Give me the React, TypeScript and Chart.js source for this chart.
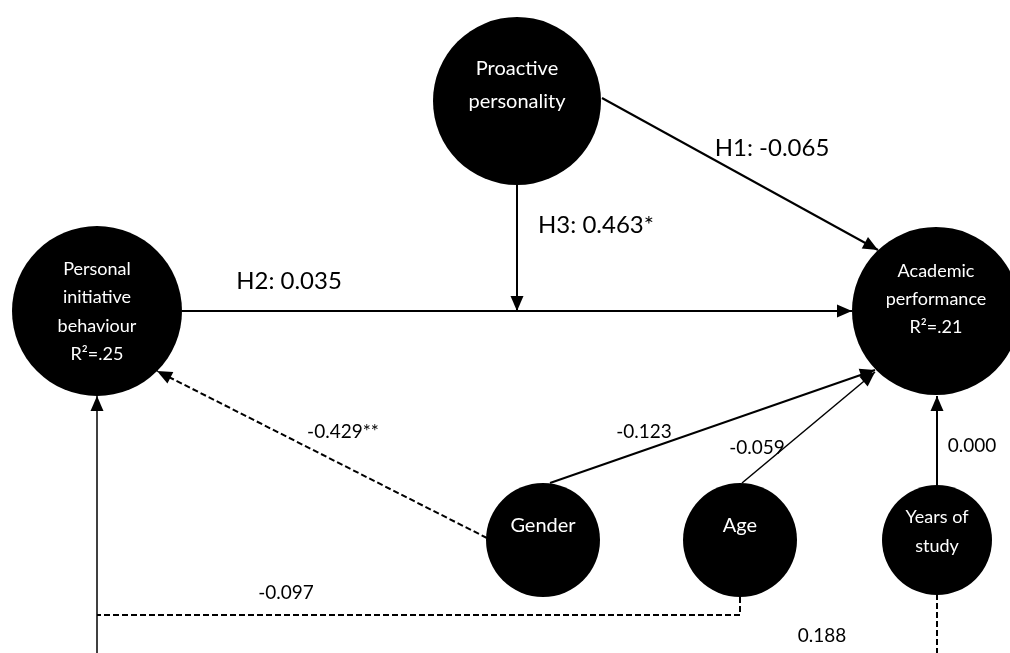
import React, { useEffect, useRef } from "react";
import { Chart, registerables } from "chart.js";

Chart.register(...registerables);

// ---- Nodes (latent / observed variables) ----
const NODE_LINES: string[][] = [
  ["Proactive", "personality"],
  ["Personal", "initiative", "behaviour", "R\u00B2=.25"],
  ["Academic", "performance", "R\u00B2=.21"],
  ["Gender"],
  ["Age"],
  ["Years of", "study"],
];
const NODE_X = [517, 97, 936, 543, 740, 937];
const NODE_Y = [101, 311, 311, 540, 540, 540];
const NODE_R = [84, 85, 84, 57, 57, 55];
const NODE_FONT = [20, 18, 18, 20, 20, 18];
const NODE_BASELINES: number[][] = [
  [75, 108],
  [275, 303, 332, 360],
  [277, 305, 333],
  [532],
  [532],
  [523, 552],
];

// ---- Paths (edges) ----
const EDGE_PATHS: number[][][] = [
  [[602, 98], [878, 250]],             // H1: Proactive -> Academic
  [[517, 184], [517, 311]],            // H3: moderation arrow
  [[182, 311], [852, 311]],            // H2: PI -> Academic
  [[487, 538], [157, 371]],            // Gender -> PI (dashed)
  [[550, 483], [875, 370]],            // Gender -> Academic
  [[742, 483], [875, 372]],            // Age -> Academic
  [[937, 486], [937, 396]],            // Years -> Academic
  [[740, 597], [740, 615], [97, 615]], // Age -> PI (dashed)
  [[97, 653], [97, 396]],              // shared vertical into PI
  [[937, 594], [937, 660]],            // Years -> PI (dashed, runs off page)
];
const EDGE_DASHED = [false, false, false, true, false, false, false, true, false, true];
const EDGE_ARROW = [true, true, true, true, true, true, true, false, true, false];
const EDGE_WIDTH = [2, 2, 2, 2, 2, 1.5, 2, 2, 1.5, 2];

// ---- Coefficient labels ----
const COEF_TEXT = ["H1: -0.065", "H3: 0.463*", "H2: 0.035", "-0.429**", "-0.123", "-0.059", "0.000", "-0.097", "0.188"];
const COEF_X = [772, 596, 289, 343, 644, 757, 972, 286, 822];
const COEF_Y = [148, 225, 281, 432, 432, 448, 446, 593, 636];
const COEF_SIZE = [24, 24, 24, 19, 19, 19, 19, 19, 19];

const FONT = "Lato, 'Open Sans', sans-serif";

const diagramPlugin = {
  id: "diagram",
  afterDatasetsDraw(chart: any) {
    const ctx = chart.ctx;
    const xs = chart.scales.x;
    const ys = chart.scales.y;
    ctx.save();
    // arrowheads
    chart.data.datasets.forEach((ds: any, i: number) => {
      if (!ds.arrow) return;
      const meta = chart.getDatasetMeta(i);
      const pts = meta.data;
      if (pts.length < 2) return;
      const a = pts[pts.length - 2];
      const b = pts[pts.length - 1];
      const ang = Math.atan2(b.y - a.y, b.x - a.x);
      const len = 15;
      const hw = 6.5;
      ctx.beginPath();
      ctx.moveTo(b.x, b.y);
      ctx.lineTo(b.x - len * Math.cos(ang) + hw * Math.sin(ang), b.y - len * Math.sin(ang) - hw * Math.cos(ang));
      ctx.lineTo(b.x - len * Math.cos(ang) - hw * Math.sin(ang), b.y - len * Math.sin(ang) + hw * Math.cos(ang));
      ctx.closePath();
      ctx.fillStyle = "#000";
      ctx.fill();
    });
    // node texts
    ctx.fillStyle = "#fff";
    ctx.textAlign = "center";
    ctx.textBaseline = "alphabetic";
    NODE_LINES.forEach((lines, i) => {
      ctx.font = `${NODE_FONT[i]}px ${FONT}`;
      lines.forEach((t, j) => {
        ctx.fillText(t, xs.getPixelForValue(NODE_X[i]), ys.getPixelForValue(NODE_BASELINES[i][j]));
      });
    });
    // coefficient labels
    ctx.fillStyle = "#000";
    ctx.textBaseline = "middle";
    COEF_TEXT.forEach((t, i) => {
      ctx.font = `${COEF_SIZE[i]}px ${FONT}`;
      ctx.fillText(t, xs.getPixelForValue(COEF_X[i]), ys.getPixelForValue(COEF_Y[i]));
    });
    ctx.restore();
  },
};

export default function App() {
  const ref = useRef<HTMLCanvasElement | null>(null);
  useEffect(() => {
    if (!ref.current) return;
    const edgeSets = EDGE_PATHS.map((p, i) => ({
      type: "scatter" as const,
      data: p.map(([x, y]) => ({ x, y })),
      showLine: true,
      borderColor: "#000",
      borderWidth: EDGE_WIDTH[i],
      borderDash: EDGE_DASHED[i] ? [6, 3] : [],
      pointRadius: 0,
      pointHoverRadius: 0,
      fill: false,
      tension: 0,
      order: 1,
      arrow: EDGE_ARROW[i],
      clip: false,
    }));
    const nodeSet = {
      type: "scatter" as const,
      data: NODE_X.map((x, i) => ({ x, y: NODE_Y[i] })),
      pointRadius: NODE_R,
      pointHoverRadius: NODE_R,
      pointBackgroundColor: "#000",
      pointBorderColor: "#000",
      pointBorderWidth: 0,
      showLine: false,
      order: 0,
      arrow: false,
      clip: false,
    };
    const chart = new Chart(ref.current, {
      type: "scatter",
      data: { datasets: [nodeSet, ...edgeSets] as any },
      options: {
        animation: false,
        responsive: false,
        events: [],
        layout: { padding: 0, autoPadding: false },
        plugins: { legend: { display: false }, tooltip: { enabled: false } },
        scales: {
          x: { type: "linear", min: 0, max: 1010, display: false },
          y: { type: "linear", min: 0, max: 653, reverse: true, display: false },
        },
      },
      plugins: [diagramPlugin],
    });
    return () => chart.destroy();
  }, []);
  return (
    <div style={{ position: "absolute", left: 0, top: 0, width: 1010, height: 653, background: "#fff" }}>
      <canvas ref={ref} width={1010} height={653} style={{ display: "block" }} />
    </div>
  );
}
